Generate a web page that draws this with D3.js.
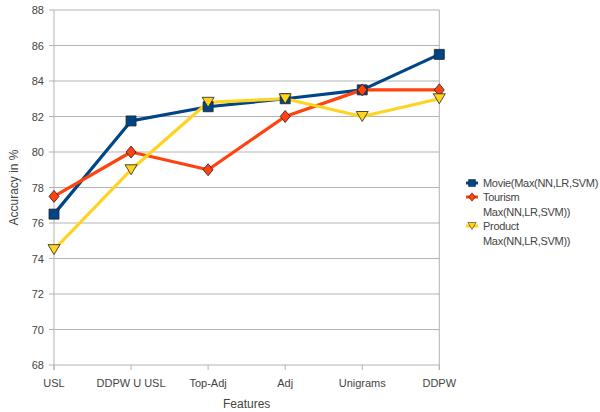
<!DOCTYPE html>
<html>
<head>
<meta charset="utf-8">
<script src="https://cdn.jsdelivr.net/npm/d3@7"></script>
<style>
  body { margin: 0; background: #fff; }
  text { font-family: "Liberation Sans", Arial, sans-serif; fill: #444; }
</style>
</head>
<body>
<div id="chart"></div>
<script>
//////////////////////// Data ///////////////////////////
const features = ["USL", "DDPW U USL", "Top-Adj", "Adj", "Unigrams", "DDPW"]
const movie = [76.5, 81.75, 82.55, 83, 83.5, 85.5]
const tourism = [77.5, 80, 79, 82, 83.5, 83.5]
const product = [74.5, 79, 82.8, 83, 82, 83]
const yTicks = [68, 70, 72, 74, 76, 78, 80, 82, 84, 86, 88]

const series = [
    {name: ["Movie(Max(NN,LR,SVM)"], values: movie, color: "#004586", symbol: "square"},
    {name: ["Tourism", "Max(NN,LR,SVM))"], values: tourism, color: "#ff420e", symbol: "diamond"},
    {name: ["Product", "Max(NN,LR,SVM))"], values: product, color: "#ffd320", symbol: "triangle"},
]

//////////////////////// SVG ///////////////////////////
const width = 600, height = 412
const margin = {left: 54, right: 160, top: 10, bottom: 47}

const svg = d3.select("#chart").append("svg")
    .attr("width", width)
    .attr("height", height)

const x = d3.scalePoint()
    .domain(features)
    .range([margin.left, width - margin.right - 0.7])

const y = d3.scaleLinear()
    .domain([68, 88])
    .range([height - margin.bottom, margin.top])

//gridlines
svg.append("g").selectAll("line")
    .data(yTicks)
    .enter().append("line")
    .attr("x1", margin.left - 5)
    .attr("x2", x("DDPW"))
    .attr("y1", d => y(d))
    .attr("y2", d => y(d))
    .style("stroke", "#b3b3b3")
    .style("stroke-width", 1)

//y axis line + right border
svg.append("line")
    .attr("x1", margin.left).attr("x2", margin.left)
    .attr("y1", y(88)).attr("y2", y(68) + 5)
    .style("stroke", "#b3b3b3")
svg.append("line")
    .attr("x1", x("DDPW")).attr("x2", x("DDPW"))
    .attr("y1", y(88)).attr("y2", y(68) + 5)
    .style("stroke", "#b3b3b3")

//x ticks
svg.append("g").selectAll("line")
    .data(features)
    .enter().append("line")
    .attr("x1", d => x(d)).attr("x2", d => x(d))
    .attr("y1", y(68)).attr("y2", y(68) + 5)
    .style("stroke", "#b3b3b3")

//tick labels
svg.append("g").selectAll("text")
    .data(yTicks)
    .enter().append("text")
    .attr("x", margin.left - 10)
    .attr("y", d => y(d) + 4)
    .attr("text-anchor", "end")
    .style("font-size", "11px")
    .text(d => d)

svg.append("g").selectAll("text")
    .data(features)
    .enter().append("text")
    .attr("x", d => x(d))
    .attr("y", y(68) + 22)
    .attr("text-anchor", "middle")
    .style("font-size", "11px")
    .text(d => d)

//axis titles
svg.append("text")
    .attr("x", (margin.left + x("DDPW")) / 2)
    .attr("y", 408)
    .attr("text-anchor", "middle")
    .style("font-size", "12px")
    .text("Features")

svg.append("text")
    .attr("transform", "translate(18," + (y(78)) + ") rotate(-90)")
    .attr("text-anchor", "middle")
    .style("font-size", "12px")
    .text("Accuracy in %")

//////////////////////// Lines & markers ///////////////////////////
const line = d3.line()
    .x((d, i) => x(features[i]))
    .y(d => y(d))

function symbolPath(type) {
    if (type === "square") return "M-5,-5H5V5H-5Z"
    if (type === "diamond") return "M0,-6L5,0L0,6L-5,0Z"
    return "M-6,-5H6L0,5Z"
}

series.forEach(s => {
    svg.append("path")
        .attr("d", line(s.values))
        .style("fill", "none")
        .style("stroke", s.color)
        .style("stroke-width", 3.2)
        .style("stroke-linejoin", "round")
})

series.forEach(s => {
    svg.append("g").selectAll("path")
        .data(s.values)
        .enter().append("path")
        .attr("transform", (d, i) => "translate(" + [x(features[i]), y(d)] + ")")
        .attr("d", symbolPath(s.symbol))
        .style("fill", s.color)
        .style("stroke", "#222")
        .style("stroke-width", 0.8)
})

//////////////////////// Legend ///////////////////////////
const legendY = [183, 197, 226]
series.forEach((s, i) => {
    const g = svg.append("g").attr("transform", "translate(472," + legendY[i] + ")")
    g.append("line")
        .attr("x1", -6).attr("x2", 6)
        .style("stroke", s.color)
        .style("stroke-width", 3)
    g.append("path")
        .attr("d", symbolPath(s.symbol))
        .attr("transform", "scale(0.7)")
        .style("fill", s.color)
        .style("stroke", "#222")
        .style("stroke-width", 0.8)
    s.name.forEach((t, j) => {
        g.append("text")
            .attr("x", 11)
            .attr("y", 4 + j * 14.5)
            .style("font-size", "11px")
            .style("letter-spacing", "-0.3px")
            .text(t)
    })
})
</script>
</body>
</html>
